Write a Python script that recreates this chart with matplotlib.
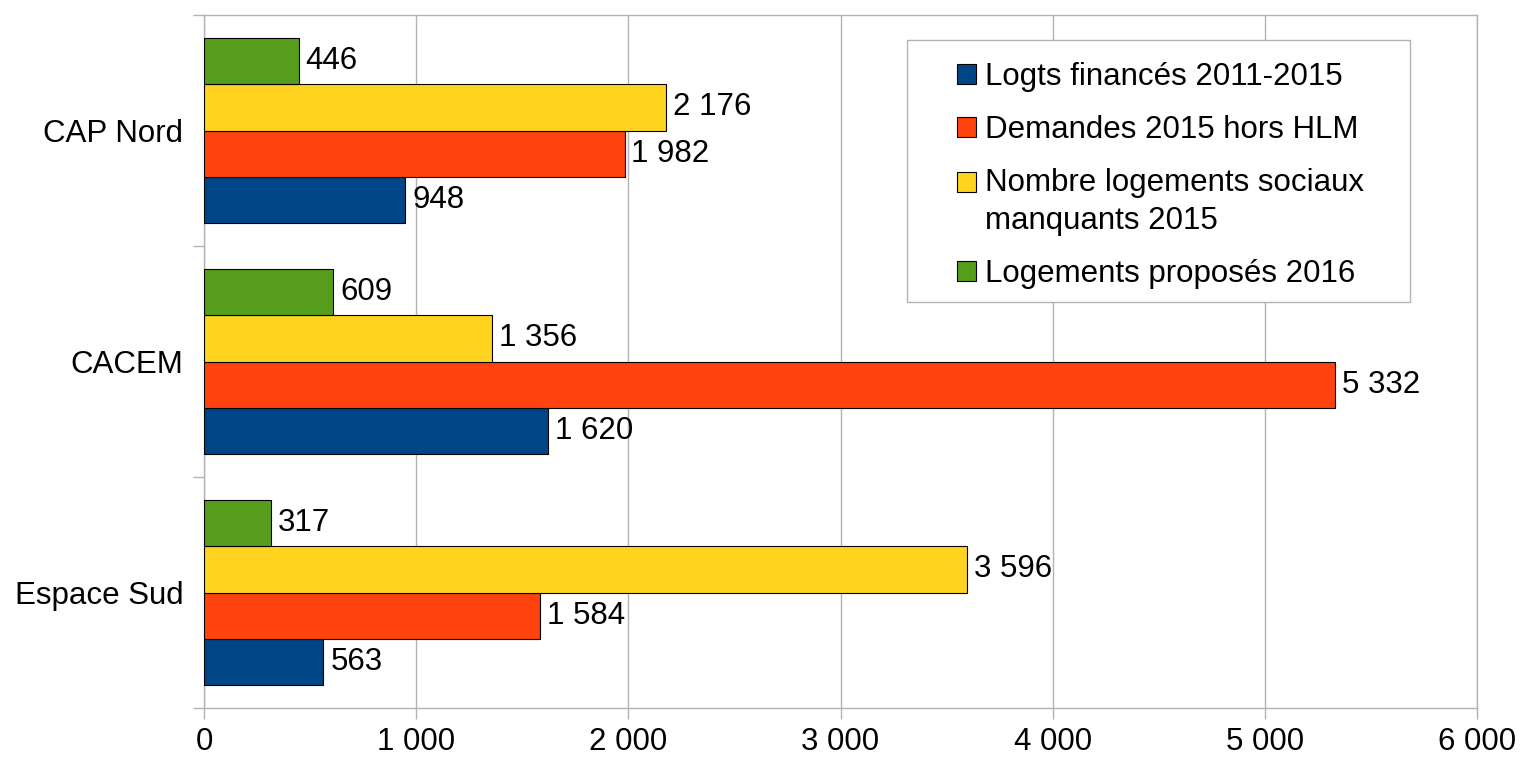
import numpy as np
import matplotlib.pyplot as plt
from matplotlib.patches import Rectangle
from matplotlib.legend_handler import HandlerPatch

plt.rcParams['font.family'] = ['Liberation Sans', 'DejaVu Sans']

# data (bottom to top on the chart)
categories = ["Espace Sud", "CACEM", "CAP Nord"]
logts_finances = [563, 1620, 948]
demandes_hors_hlm = [1584, 5332, 1982]
logements_manquants = [3596, 1356, 2176]
logements_proposes = [317, 609, 446]

series_names = [
    "Logts financés 2011-2015",
    "Demandes 2015 hors HLM",
    "Nombre logements sociaux\nmanquants 2015",
    "Logements proposés 2016",
]
series_values = [logts_finances, demandes_hors_hlm, logements_manquants, logements_proposes]
colors = ["#004586", "#ff420e", "#ffd320", "#579d1c"]
x_ticks = [0, 1000, 2000, 3000, 4000, 5000, 6000]

GRAY = "#b3b3b3"
FS = 22.5


def fmt(v):
    return f"{v:,}".replace(",", " ")


def top_aligned_patch(legend, orig_handle, xdescent, ydescent, width, height, fontsize):
    # put the square next to the first line of a two-line label
    shift = 0.65 * fontsize
    return Rectangle((-xdescent, -ydescent + shift), width, height)


W, H = 1522, 762
fig = plt.figure(figsize=(W / 100, H / 100), dpi=100)
ax = fig.add_axes([204 / W, 1 - 708 / H, (1477 - 204) / W, (708 - 15) / H])

y = np.arange(len(categories))
bar_h = 0.2
offsets = [-0.3, -0.1, 0.1, 0.3]
handles = []
for vals, name, col, off in zip(series_values, series_names, colors, offsets):
    bars = ax.barh(y + off, vals, height=bar_h, color=col, edgecolor="black",
                   linewidth=0.8, label=name, zorder=3)
    ax.bar_label(bars, labels=[fmt(v) for v in vals], padding=5, fontsize=FS)
    handles.append(bars.patches[0])

ax.set_xlim(0, 6000)
ax.set_ylim(-0.5, 2.5)
ax.set_xticks(x_ticks)
ax.set_xticklabels([fmt(t) for t in x_ticks])
ax.xaxis.grid(True, color=GRAY, linewidth=1)
ax.set_axisbelow(True)

ax.set_yticks([-0.5, 0.5, 1.5, 2.5])
ax.set_yticklabels([])
ax.set_yticks(y, minor=True)
ax.set_yticklabels(categories, minor=True)
ax.tick_params(axis="y", which="major", length=8, color=GRAY, width=1)
ax.tick_params(axis="y", which="minor", length=0, pad=15, labelsize=FS)
ax.tick_params(axis="x", length=8, color=GRAY, width=1, pad=6, labelsize=FS)
for s in ax.spines.values():
    s.set_color(GRAY)
    s.set_linewidth(1)

# legend box
box = Rectangle((907 / W, 1 - 302 / H), (1410 - 907) / W, (302 - 40) / H,
                transform=fig.transFigure, facecolor="white", edgecolor=GRAY,
                linewidth=1, zorder=4, clip_on=False)
ax.add_patch(box)
leg = ax.legend(handles=handles, labels=series_names,
                loc="upper left", bbox_to_anchor=(957 / W, 1 - 62 / H),
                bbox_transform=fig.transFigure, frameon=False, fontsize=FS,
                borderpad=0, borderaxespad=0, handlelength=0.61, handleheight=0.61,
                handletextpad=0.3, labelspacing=0.73,
                handler_map={handles[2]: HandlerPatch(patch_func=top_aligned_patch)})
for t in leg.get_texts():
    t.set_linespacing(1.37)

fig.savefig("out.png", dpi=100)
